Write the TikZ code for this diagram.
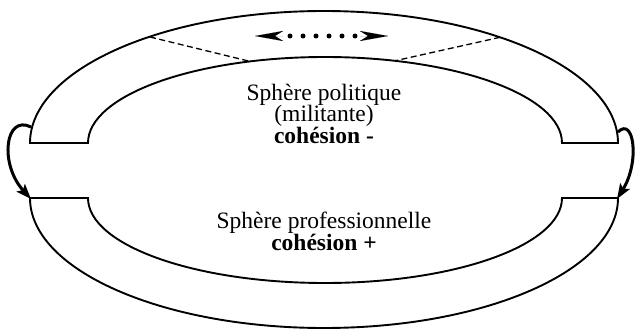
\documentclass[tikz,border=0pt]{standalone}
\usepackage{fontspec}
\setmainfont{Liberation Serif}
\usetikzlibrary{arrows.meta}
\begin{document}
\begin{tikzpicture}[x=1pt,y=1pt,
  band/.style={draw=black,line width=1.9pt,line join=miter,fill=white},
  sep/.style={draw=black,line width=1.3pt,dash pattern=on 6pt off 3.5pt},
  txt/.style={font=\fontsize{23.5}{21}\selectfont,inner sep=0pt,anchor=base},
  loop/.style={line width=3pt,-{Stealth[length=15pt,width=11pt,inset=3pt]}},
  dotline/.style={line width=5pt,line cap=round,dash pattern=on 0pt off 13pt},
  tip/.style={line width=0.01pt,-{Stealth[length=28pt,width=10pt,inset=8pt]}}]
\useasboundingbox (0,0) rectangle (635,330);
% upper band (political sphere)
\draw[band] (30,187) arc[start angle=180,end angle=0,x radius=294,y radius=132]
  -- (562,187) arc[start angle=0,end angle=180,x radius=237,y radius=86] -- cycle;
% lower band (professional sphere)
\draw[band] (30,132) arc[start angle=180,end angle=360,x radius=294,y radius=130]
  -- (562,132) arc[start angle=0,end angle=-180,x radius=237,y radius=85] -- cycle;
% dashed separators
\coordinate (o1) at (150,293);
\coordinate (i1) at (250,268.6);
\coordinate (o2) at (500,292.7);
\coordinate (i2) at (395,269.2);
\draw[sep] (o1) -- (i1);
\draw[sep] (o2) -- (i2);
% top double arrow with dots
\coordinate (dotL) at (290,294);
\coordinate (dotR) at (355.5,294);
\coordinate (backL) at (283,294);
\coordinate (tipL) at (255,294);
\coordinate (backR) at (360,294);
\coordinate (tipR) at (388,294);
\draw[dotline] (dotL) -- (dotR);
\draw[tip] (backL) -- (tipL);
\draw[tip] (backR) -- (tipR);
% side loops
\coordinate (ls) at (31,203);
\coordinate (le) at (31,131);
\coordinate (rs) at (618,198);
\coordinate (re) at (617,131);
\draw[loop] (ls) .. controls (5,216) and (-1,166) .. (le);
\draw[loop] (rs) .. controls (634,214) and (640,168) .. (re);
% texts
\node[txt] (t1) at (324,229.5) {Sphère politique};
\node[txt] (t2) at (324,208) {(militante)};
\node[txt] (t3) at (324,186.5) {\bfseries cohésion -};
\node[txt] (t4) at (324,102) {Sphère professionnelle};
\node[txt] (t5) at (324,80) {\bfseries cohésion +};
\end{tikzpicture}
\end{document}
